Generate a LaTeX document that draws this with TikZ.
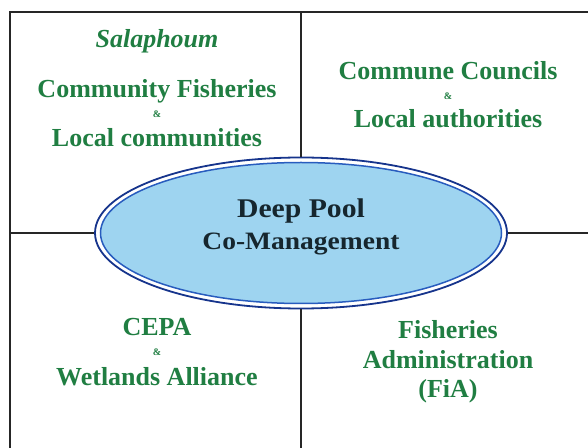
\documentclass[tikz,border=0pt]{standalone}
\usepackage{fontspec}
\setmainfont{Liberation Serif}
\usetikzlibrary{shapes.geometric}
\definecolor{txtgreen}{RGB}{32,126,66}
\definecolor{pooltxt}{RGB}{22,38,46}
\definecolor{poolfill}{RGB}{158,212,240}
\definecolor{outerblue}{RGB}{22,52,140}
\definecolor{innerblue}{RGB}{40,92,190}
\tikzset{
  gridline/.style={draw=black!85, line width=1.1pt},
  lbl/.style={text=txtgreen, font=\fontsize{26}{28}\selectfont\bfseries, anchor=base, inner sep=0pt},
  amp/.style={text=txtgreen, font=\fontsize{10}{10}\selectfont\bfseries, anchor=base, inner sep=0pt},
  pooltext/.style={text=pooltxt, font=\fontsize{27}{29}\selectfont\bfseries, anchor=base, inner sep=0pt, xscale=1.1, transform shape},
}
\begin{document}
\begin{tikzpicture}[x=1pt,y=1pt]
\useasboundingbox (0,0) rectangle (588,447);
\clip (0,0) rectangle (588,447);
% frame
\coordinate (tl) at (10,435);
\coordinate (tr) at (600,435);
\coordinate (bl) at (10,-5);
\coordinate (vt) at (301,435);
\coordinate (vb) at (301,-5);
\coordinate (hl) at (10,214);
\coordinate (hr) at (600,214);
% ellipse
\node[ellipse, minimum width=412pt, minimum height=151pt, draw=outerblue, line width=1.8pt, inner sep=0pt] (poolout) at (301,214) {};
\node[ellipse, minimum width=401pt, minimum height=141pt, fill=poolfill, draw=innerblue, line width=1.5pt, inner sep=0pt] (pool) at (301,214) {};
\draw[gridline] (bl) -- (tl) -- (tr);
\draw[gridline] (vt) -- (poolout.north);
\draw[gridline] (poolout.south) -- (vb);
\draw[gridline] (hl) -- (poolout.west);
\draw[gridline] (poolout.east) -- (hr);
% centre text
\node[pooltext] (dp) at (301,229) {Deep Pool};
\node[pooltext, font=\fontsize{25}{27}\selectfont\bfseries] (cm) at (301,197) {Co-Management};
% top-left
\node[lbl, font=\fontsize{26}{28}\selectfont\bfseries\itshape] (sal) at (157,399) {Salaphoum};
\node[lbl] (cf) at (157,349) {Community Fisheries};
\node[amp] (a1) at (157,329) {\&};
\node[lbl] (lc) at (157,300) {Local communities};
% top-right
\node[lbl] (cc) at (448,367) {Commune Councils};
\node[amp] (a2) at (448,347) {\&};
\node[lbl] (la) at (448,319) {Local authorities};
% bottom-left
\node[lbl] (cepa) at (157,112) {CEPA};
\node[amp] (a3) at (157,92) {\&};
\node[lbl] (wa) at (157,62) {Wetlands Alliance};
% bottom-right
\node[lbl] (fi) at (448,109) {Fisheries};
\node[lbl] (ad) at (448,79) {Administration};
\node[lbl] (fia) at (448,50) {(FiA)};
\end{tikzpicture}
\end{document}
